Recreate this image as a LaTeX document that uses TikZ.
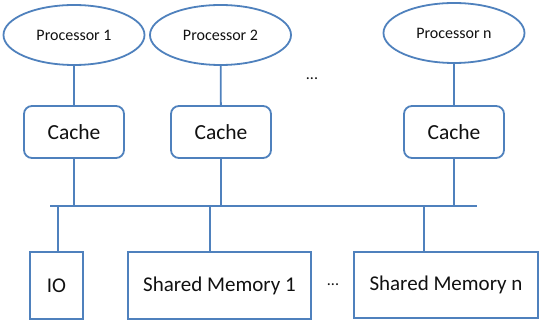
\documentclass[tikz,border=0pt]{standalone}
\usepackage{fontspec}
\setmainfont{Carlito}
\usepackage{tikz}
\usetikzlibrary{shapes.geometric, positioning, calc}
\definecolor{officeblue}{HTML}{4F81BD}
\definecolor{textdark}{HTML}{111111}
\tikzset{
  wire/.style={line width=1.8pt, officeblue},
  cpu/.style={ellipse, draw=officeblue, fill=white, line width=1.8pt, inner sep=0pt, minimum width=141pt, minimum height=60pt, text=textdark, font=\fontsize{16}{18}\selectfont},
  cachebox/.style={rectangle, rounded corners=8pt, draw=officeblue, fill=white, line width=1.8pt, minimum width=100pt, minimum height=52pt, text=textdark, font=\fontsize{21.5}{24}\selectfont},
  membox/.style={rectangle, draw=officeblue, fill=white, line width=1.8pt, minimum height=66pt, text=textdark, font=\fontsize{21}{24}\selectfont},
  gap/.style={text=textdark, font=\fontsize{16}{18}\selectfont},
}

\begin{document}
\begin{tikzpicture}[x=1pt, y=-1pt]
    \useasboundingbox (0,0) rectangle (541,323);
    % processors
    \node[cpu] (cpu1) at (74,35) {Processor 1};
    \node[cpu] (cpu2) at (220.5,35) {Processor 2};
    \node[cpu] (cpun) at (454,33) {Processor n};
    \node[gap] (dotsa) at (312,79) {...};
    % caches
    \node[cachebox] (cache1) at (74,132) {Cache};
    \node[cachebox] (cache2) at (221,132) {Cache};
    \node[cachebox] (cachen) at (454,132) {Cache};
    \draw[wire] (cpu1) -- (cache1);
    \draw[wire] (cpu2) -- (cache2);
    \draw[wire] (cpun) -- (cachen);
    % bus
    \coordinate (busl) at (50,206);
    \coordinate (busr) at (477,206);
    \draw[wire] (busl) -- (busr);
    \draw[wire] (cache1) -- (cache1 |- busl);
    \draw[wire] (cache2) -- (cache2 |- busl);
    \draw[wire] (cachen) -- (cachen |- busl);
    % memories
    \node[membox, minimum width=53pt, minimum height=67pt] (io) at (56.5,285.5) {IO};
    \node[membox, minimum width=183pt, minimum height=67pt] (mem1) at (219.5,285.5) {Shared Memory 1};
    \node[membox, minimum width=184pt] (memn) at (446,285) {Shared Memory n};
    \node[gap] (dotsb) at (333,285) {...};
    \coordinate (tapio) at (58,206);
    \coordinate (tap1) at (210,206);
    \coordinate (tapn) at (424,206);
    \draw[wire] (tapio) -- (tapio |- io.north);
    \draw[wire] (tap1) -- (tap1 |- mem1.north);
    \draw[wire] (tapn) -- (tapn |- memn.north);
  \end{tikzpicture}
\end{document}
